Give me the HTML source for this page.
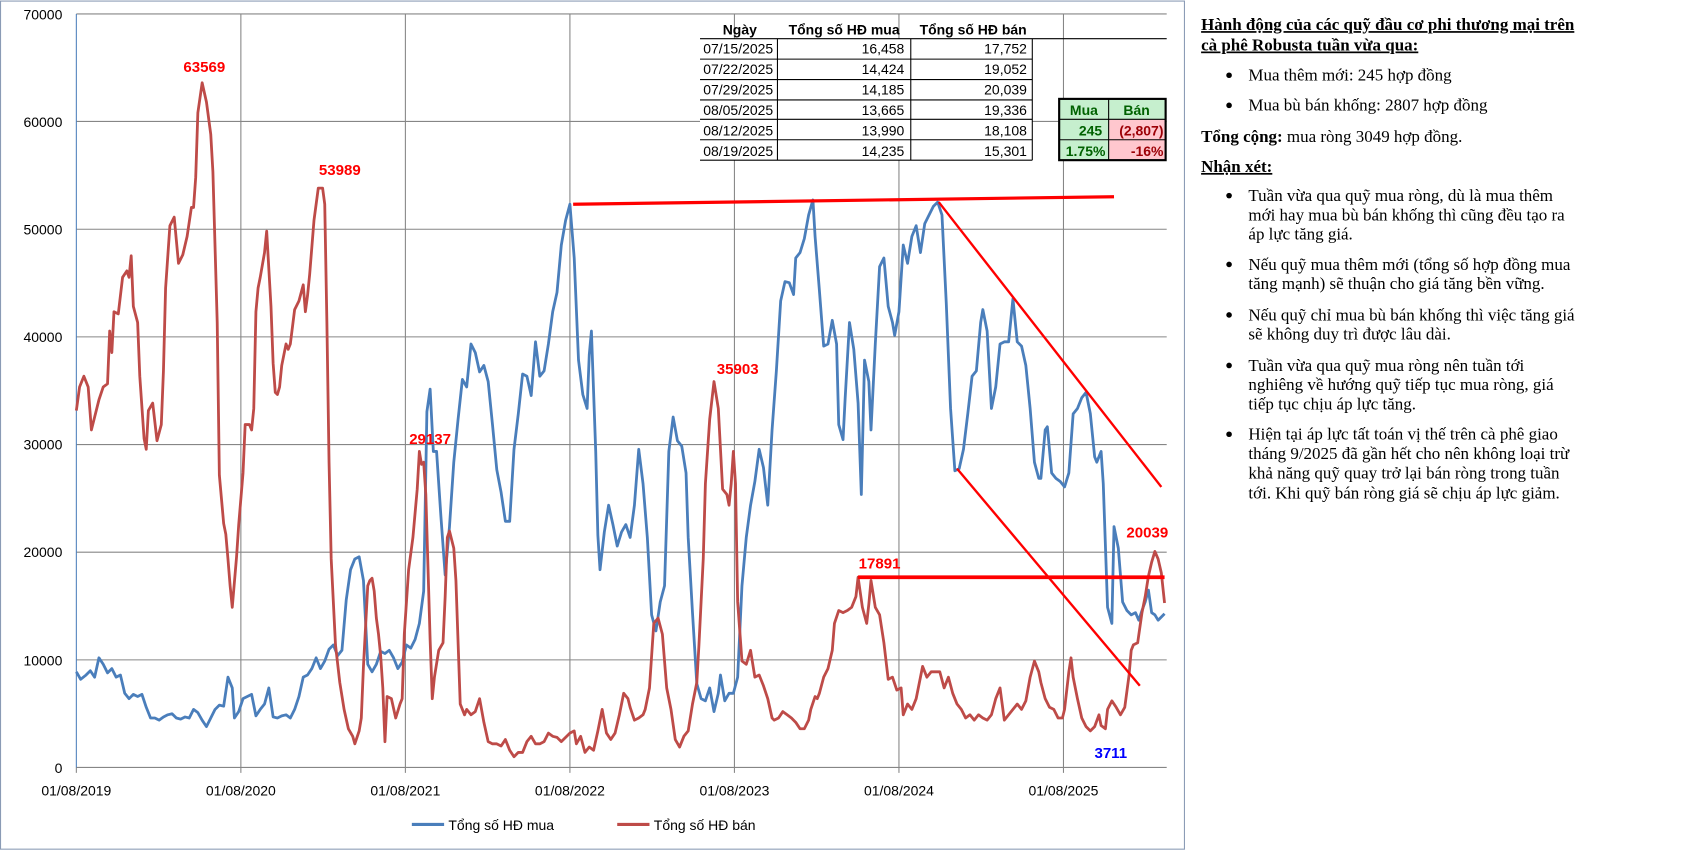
<!DOCTYPE html>
<html><head><meta charset="utf-8"><style>
html,body{margin:0;padding:0;background:#fff;}
svg{display:block;}
.ax{font-family:"Liberation Sans",sans-serif;font-size:13px;fill:#000;}
.tb{font-family:"Liberation Sans",sans-serif;font-size:13px;fill:#000;}
.lb{font-family:"Liberation Sans",sans-serif;font-size:14px;font-weight:bold;fill:#ff0000;}
.rt{font-family:"Liberation Serif","Noto Serif CJK SC",serif;font-size:15.8px;fill:#000;}
</style></head><body>
<svg width="1685" height="854" viewBox="0 0 1567 794.5" preserveAspectRatio="none" xmlns="http://www.w3.org/2000/svg">
<rect x="0.5" y="1" width="1101" height="789" fill="#fff" stroke="#8a9bb5" stroke-width="1"/>
<g stroke="#868686" stroke-width="1">
<line x1="71" y1="13" x2="1085" y2="13"/><line x1="71" y1="113" x2="1085" y2="113"/>
<line x1="71" y1="213.3" x2="1085" y2="213.3"/><line x1="71" y1="313.4" x2="1085" y2="313.4"/>
<line x1="71" y1="413.6" x2="1085" y2="413.6"/><line x1="71" y1="513.7" x2="1085" y2="513.7"/>
<line x1="71" y1="613.9" x2="1085" y2="613.9"/><line x1="71" y1="714" x2="1085" y2="714"/>
<line x1="224" y1="13" x2="224" y2="719"/><line x1="377" y1="13" x2="377" y2="719"/>
<line x1="530" y1="13" x2="530" y2="719"/><line x1="683" y1="13" x2="683" y2="719"/>
<line x1="836" y1="13" x2="836" y2="719"/><line x1="989" y1="13" x2="989" y2="719"/>
<line x1="71" y1="719" x2="71" y2="714"/>
</g>
<line x1="71" y1="13" x2="71" y2="714" stroke="#4f81bd" stroke-width="1"/>
<g class="ax" text-anchor="end">
<text x="58" y="18">70000</text><text x="58" y="118">60000</text><text x="58" y="218">50000</text>
<text x="58" y="318">40000</text><text x="58" y="418">30000</text><text x="58" y="518">20000</text>
<text x="58" y="619">10000</text><text x="58" y="719">0</text>
</g>
<g class="ax" text-anchor="middle" font-size="14">
<text x="71" y="740">01/08/2019</text><text x="224" y="740">01/08/2020</text><text x="377" y="740">01/08/2021</text>
<text x="530" y="740">01/08/2022</text><text x="683" y="740">01/08/2023</text><text x="836" y="740">01/08/2024</text>
<text x="989" y="740">01/08/2025</text>
</g>
<polyline fill="none" stroke="#4a7ebb" stroke-width="2.6" stroke-linejoin="round" points="71,625 75,632 80,628 84,624 88,630 92,612 96,618 100,626 104,622 108,630 112,628 116,645 120,650 124,646 128,648 132,646 136,658 140,668 144,668 148,670 152,667 156,665 160,664 164,668 168,669 172,667 176,668 180,660 184,663 188,670 192,676 196,668 200,660 204,656 208,657 212,630 216,640 218,668 222,662 226,650 230,648 234,646 238,666 242,660 246,655 250,640 254,667 258,668 262,666 266,665 270,668 274,660 278,648 282,630 286,628 290,622 294,612 298,622 302,615 306,604 310,600 314,610 318,605 322,558 326,530 330,520 334,518 338,540 342,618 346,625 350,618 354,606 358,608 362,605 366,612 370,622 374,616 378,600 382,603 386,595 390,580 394,550 397,383 400,362 403,420 406,420 410,480 414,535 418,490 422,430 426,390 430,353 434,360 438,320 442,328 446,346 450,340 454,355 458,395 462,437 466,458 470,485 474,485 478,418 482,385 486,348 490,350 494,368 498,318 502,350 506,345 510,320 514,290 518,272 522,228 526,205 530,190 534,240 538,335 542,367 546,380 548,330 550,308 554,420 556,498 558,530 562,495 566,470 570,488 574,508 578,495 582,488 586,500 590,470 594,418 598,450 602,500 606,572 610,587 614,560 618,545 622,420 626,388 630,410 634,415 638,440 640,500 644,570 648,636 652,650 656,652 660,640 664,662 668,645 670,628 674,652 678,645 682,645 686,630 690,545 694,500 698,470 702,448 706,418 710,435 714,470 718,400 722,345 726,280 730,262 734,263 738,274 740,240 744,235 748,222 752,200 756,186 758,220 762,270 766,322 770,320 774,298 778,320 780,395 784,409 786,370 790,300 794,325 798,375 801,460 804,335 808,355 810,400 814,320 818,248 822,240 826,285 830,300 832,312 836,290 840,228 844,245 848,220 852,210 856,235 860,208 864,200 868,192 872,188 876,200 880,282 884,380 888,438 892,436 896,418 900,385 904,350 908,345 912,300 914,288 918,308 922,380 926,360 930,320 934,318 938,318 942,278 946,318 950,322 954,340 958,380 962,430 966,445 968,445 972,400 974,397 978,440 982,445 986,448 990,453 994,440 998,385 1002,380 1006,370 1010,365 1014,385 1018,425 1020,430 1024,420 1026,450 1030,565 1034,580 1036,490 1040,510 1044,560 1048,568 1052,572 1056,570 1059,577 1062,568 1065,560 1068,549 1071,570 1074,572 1077,577 1080,574 1083,571"/>
<polyline fill="none" stroke="#be4b48" stroke-width="2.6" stroke-linejoin="round" points="71,382 74,360 78,350 82,360 85,400 88,388 92,372 96,360 100,357 102,308 104,328 106,290 110,292 114,258 118,252 120,258 122,238 124,285 128,300 130,350 134,408 136,418 138,382 142,375 146,410 150,395 152,345 154,268 158,210 162,202 166,245 170,237 174,220 178,193 180,193 182,165 184,105 188,77 192,95 196,125 198,160 202,300 204,442 208,487 210,497 212,520 214,545 216,565 220,518 222,488 226,440 228,395 232,395 234,400 236,380 238,290 240,268 242,258 246,235 248,215 252,285 254,338 256,365 258,367 260,360 262,340 266,320 268,325 270,320 274,288 278,280 282,265 284,290 286,275 288,255 292,205 296,175 300,175 302,190 304,300 306,430 308,520 312,600 316,635 320,660 324,678 328,685 330,692 334,680 336,668 338,620 342,545 344,540 346,538 348,550 350,575 352,590 354,610 356,640 358,690 360,648 364,650 368,668 372,655 374,650 376,590 380,530 384,500 388,455 390,420 392,432 394,430 396,460 400,595 402,650 404,630 408,605 412,598 414,555 416,500 418,494 422,510 424,540 428,655 432,665 434,660 438,665 442,662 446,650 450,672 454,690 458,692 462,692 466,694 470,688 474,698 478,704 482,700 486,700 490,690 494,685 498,692 502,692 506,690 510,682 514,685 518,686 522,690 526,686 530,682 534,680 536,692 540,685 544,700 548,695 552,698 556,680 560,660 564,682 568,688 572,682 576,665 580,645 584,650 586,658 590,670 594,668 598,665 600,660 604,640 608,580 612,575 616,590 620,640 624,660 628,688 632,695 636,685 640,680 644,655 648,635 650,600 652,560 654,520 656,450 660,390 664,355 668,380 672,455 676,460 678,470 680,450 682,420 684,450 686,560 690,615 694,618 698,605 702,630 706,628 710,638 714,650 718,668 720,670 724,668 728,662 732,665 736,668 740,672 744,678 748,678 752,670 754,660 758,648 760,650 762,645 766,630 770,622 774,605 776,580 780,568 784,570 788,568 792,565 796,555 798,537 802,565 806,580 808,562 810,540 814,565 818,572 822,598 826,632 830,630 834,642 838,640 840,665 844,655 848,660 852,650 856,630 858,620 862,630 866,625 870,625 874,625 878,640 882,630 886,645 890,655 894,660 898,668 902,665 906,670 910,665 914,668 918,670 922,665 926,650 930,640 934,670 938,665 942,660 946,655 950,660 954,652 958,630 962,615 966,625 968,635 972,650 976,658 980,660 984,668 988,668 990,660 994,625 996,612 998,630 1002,650 1006,668 1010,676 1014,680 1018,676 1022,665 1024,675 1028,678 1030,660 1034,652 1038,658 1042,665 1046,658 1050,628 1052,605 1054,600 1058,598 1062,570 1065,555 1068,536 1071,523 1074,513 1077,520 1080,533 1083,561"/>
<g stroke="#ff0000" fill="none">
<line x1="533" y1="190" x2="1036" y2="183" stroke-width="3"/>
<line x1="873" y1="188" x2="1080" y2="453" stroke-width="2.2"/>
<line x1="890" y1="436" x2="1060" y2="638" stroke-width="2.2"/>
<line x1="798" y1="537" x2="1083" y2="537" stroke-width="3.5"/>
</g>
<g class="lb" text-anchor="middle">
<text x="190" y="67">63569</text><text x="316" y="163">53989</text><text x="400" y="413">29137</text>
<text x="686" y="348">35903</text><text x="818" y="529">17891</text><text x="1067" y="500">20039</text>
<text x="1033" y="705" style="fill:#0000ff">3711</text>
</g>
<line x1="383" y1="767" x2="413" y2="767" stroke="#4a7ebb" stroke-width="3"/>
<text x="417" y="772" class="ax" font-size="15">Tổng số  HĐ mua</text>
<line x1="574" y1="767" x2="604" y2="767" stroke="#be4b48" stroke-width="3"/>
<text x="608" y="772" class="ax" font-size="15">Tổng số HĐ bán</text>
<rect x="651" y="36" width="309" height="113" fill="#fff"/>
<g class="tb">
<text x="688" y="32" text-anchor="middle" font-weight="bold">Ngày</text>
<text x="785" y="32" text-anchor="middle" font-weight="bold">Tổng số  HĐ mua</text>
<text x="905" y="32" text-anchor="middle" font-weight="bold">Tổng số HĐ bán</text>
</g>
<g stroke="#000" stroke-width="1">
<line x1="651" y1="36" x2="1085" y2="36"/>
<line x1="651" y1="55" x2="960" y2="55"/><line x1="651" y1="74" x2="960" y2="74"/>
<line x1="651" y1="93" x2="960" y2="93"/><line x1="651" y1="111" x2="960" y2="111"/>
<line x1="651" y1="130" x2="960" y2="130"/><line x1="651" y1="149" x2="960" y2="149"/>
<line x1="723" y1="36" x2="723" y2="149"/><line x1="847" y1="36" x2="847" y2="149"/><line x1="960" y1="36" x2="960" y2="149"/>
</g>
<g class="tb">
<text x="654" y="50">07/15/2025</text><text x="654" y="69">07/22/2025</text><text x="654" y="88">07/29/2025</text>
<text x="654" y="107">08/05/2025</text><text x="654" y="126">08/12/2025</text><text x="654" y="145">08/19/2025</text>
</g>
<g class="tb" text-anchor="end">
<text x="841" y="50">16,458</text><text x="841" y="69">14,424</text><text x="841" y="88">14,185</text>
<text x="841" y="107">13,665</text><text x="841" y="126">13,990</text><text x="841" y="145">14,235</text>
<text x="955" y="50">17,752</text><text x="955" y="69">19,052</text><text x="955" y="88">20,039</text>
<text x="955" y="107">19,336</text><text x="955" y="126">18,108</text><text x="955" y="145">15,301</text>
</g>
<rect x="985" y="92" width="46" height="57" fill="#c6efce"/>
<rect x="1031" y="92" width="53" height="19" fill="#c6efce"/>
<rect x="1031" y="111" width="53" height="38" fill="#ffc7ce"/>
<g stroke="#000" stroke-width="1" fill="none">
<line x1="985" y1="111" x2="1084" y2="111"/><line x1="985" y1="130" x2="1084" y2="130"/>
<line x1="1031" y1="92" x2="1031" y2="149"/>
</g>
<rect x="985" y="92" width="99" height="57" fill="none" stroke="#000" stroke-width="2"/>
<g class="tb" font-weight="bold">
<text x="1008" y="107" text-anchor="middle" fill="#006100">Mua</text>
<text x="1057" y="107" text-anchor="middle" fill="#006100">Bán</text>
<text x="1025" y="126" text-anchor="end" fill="#006100">245</text>
<text x="1082" y="126" text-anchor="end" fill="#9c0006">(2,807)</text>
<text x="1028" y="145" text-anchor="end" fill="#006100">1.75%</text>
<text x="1082" y="145" text-anchor="end" fill="#9c0006">-16%</text>
</g>
<g class="rt">
<text x="1117" y="28" font-weight="bold" text-decoration="underline">Hành động của các quỹ đầu cơ phi thương mại trên</text>
<text x="1117" y="47" font-weight="bold" text-decoration="underline">cà phê Robusta tuần vừa qua:</text>
<text x="1161" y="75">Mua thêm mới: 245 hợp đồng</text>
<text x="1161" y="103">Mua bù bán khống: 2807 hợp đồng</text>
<text x="1117" y="132"><tspan font-weight="bold">Tổng cộng:</tspan> mua ròng 3049 hợp đồng.</text>
<text x="1117" y="160" font-weight="bold" text-decoration="underline">Nhận xét:</text>
<text x="1161" y="187">Tuần vừa qua quỹ mua ròng, dù là mua thêm</text>
<text x="1161" y="205">mới hay mua bù bán khống thì cũng đều tạo ra</text>
<text x="1161" y="223">áp lực tăng giá.</text>
<text x="1161" y="251">Nếu quỹ mua thêm mới (tổng số hợp đồng mua</text>
<text x="1161" y="269">tăng mạnh) sẽ thuận cho giá tăng bền vững.</text>
<text x="1161" y="298">Nếu quỹ chỉ mua bù bán khống thì việc tăng giá</text>
<text x="1161" y="316">sẽ không duy trì được lâu dài.</text>
<text x="1161" y="345">Tuần vừa qua quỹ mua ròng nên tuần tới</text>
<text x="1161" y="363">nghiêng về hướng quỹ tiếp tục mua ròng, giá</text>
<text x="1161" y="381">tiếp tục chịu áp lực tăng.</text>
<text x="1161" y="409">Hiện tại áp lực tất toán vị thế trên cà phê giao</text>
<text x="1161" y="427">tháng 9/2025 đã gần hết cho nên không loại trừ</text>
<text x="1161" y="445">khả năng quỹ quay trở lại bán ròng trong tuần</text>
<text x="1161" y="464">tới. Khi quỹ bán ròng giá sẽ chịu áp lực giảm.</text>
</g>
<g fill="#000">
<circle cx="1143" cy="70" r="2.6"/><circle cx="1143" cy="98" r="2.6"/>
<circle cx="1143" cy="182" r="2.6"/><circle cx="1143" cy="246" r="2.6"/>
<circle cx="1143" cy="293" r="2.6"/><circle cx="1143" cy="340" r="2.6"/>
<circle cx="1143" cy="404" r="2.6"/>
</g>
</svg>
</body></html>
